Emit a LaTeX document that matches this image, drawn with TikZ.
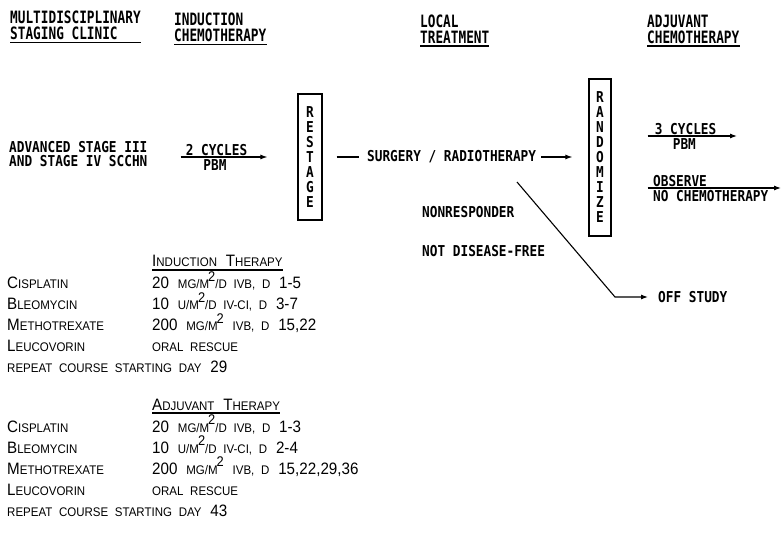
\documentclass[tikz,border=0pt]{standalone}
\usepackage{fontspec}
\newfontfamily\plotfont[FakeStretch=0.85]{DejaVu Sans Mono}
\newfontfamily\headfont[FakeStretch=0.75]{DejaVu Sans Mono}
\newfontfamily\tabfont[FakeStretch=0.92, WordSpace=2.1]{Liberation Sans}
\newcommand{\smc}[1]{{\fontsize{12.5}{12.5}\selectfont #1}}
\newcommand{\msq}{\smc{M}\kern-1pt\raisebox{7.5pt}{\fontsize{14}{14}\selectfont 2}}
\usepackage{tikz}
\usetikzlibrary{arrows.meta, positioning}

\begin{document}
\begin{tikzpicture}[x=1pt, y=-1pt,
  head/.style={font=\headfont\bfseries\fontsize{17}{16}\selectfont, align=left, anchor=north west, inner sep=0pt},
  txt/.style={font=\plotfont\bfseries\fontsize{15}{13}\selectfont, inner sep=0pt},
  vbox/.style={draw, line width=1.2pt, font=\plotfont\bfseries\fontsize{15}{15}\selectfont, align=center, inner sep=0pt, minimum width=24pt},
  tab/.style={font=\tabfont\fontsize{16.5}{16.5}\selectfont, anchor=base west, inner sep=0pt},
  ul/.style={line width=1.3pt},
  arr/.style={-{Latex[length=7pt, width=5pt]}, line width=1.1pt}]
\useasboundingbox (0,0) rectangle (782,537);
% column headings
\node[head] (h0) at (10, 11) {MULTIDISCIPLINARY\\ STAGING CLINIC};
\node[head] (h1) at (174, 13) {INDUCTION\\ CHEMOTHERAPY};
\node[head] (h2) at (420, 15) {LOCAL\\ TREATMENT};
\node[head] (h3) at (647, 15) {ADJUVANT\\ CHEMOTHERAPY};
\draw[ul] ([yshift=-2pt]h0.south west) -- ([yshift=-2pt]h0.south east);
\draw[ul] ([yshift=-2pt]h1.south west) -- ([yshift=-2pt]h1.south east);
\draw[ul] ([yshift=-2pt]h2.south west) -- ([yshift=-2pt]h2.south east);
\draw[ul] ([yshift=-2pt]h3.south west) -- ([yshift=-2pt]h3.south east);
% flow
\node[txt, align=left, anchor=north west, font=\plotfont\bfseries\fontsize{15}{14.5}\selectfont] (adv) at (9, 141) {ADVANCED STAGE III\\ AND STAGE IV SCCHN};
\node[vbox, minimum height=126pt] (rs) at (310, 157) {R\\E\\S\\T\\A\\G\\E};
\node[txt, anchor=west] (surg) at (367, 157) {SURGERY / RADIOTHERAPY};
\node[vbox, minimum height=157pt, minimum width=22pt] (rz) at (600, 157.5) {R\\A\\N\\D\\O\\M\\I\\Z\\E};
\node[txt, anchor=west] (nr) at (422, 212) {NONRESPONDER};
\node[txt, anchor=west] (ndf) at (422, 251) {NOT DISEASE-FREE};
\node[txt, anchor=west] (off) at (658, 297) {OFF STUDY};
\coordinate (dstart) at (517, 182);
\coordinate (bend) at (615, 297);
\coordinate (cyc) at (737, 136);
\coordinate (obs) at (781, 188);
\draw[arr, shorten <=33pt, shorten >=30pt] (rs.west -| adv.east) -- (rs.west)
  node[txt, pos=0.46, above=0.5pt] {2 CYCLES} node[txt, pos=0.45, below=2pt] {PBM};
\draw[line width=1.1pt, shorten <=14pt, shorten >=8pt] (rs.east) -- (surg.west);
\draw[arr, shorten <=5pt, shorten >=16pt] (surg.east) -- (surg.east -| rz.west);
\draw[arr, shorten <=36pt] (rz.east |- cyc) -- (cyc)
  node[txt, pos=0.59, above=0.5pt] {3 CYCLES} node[txt, pos=0.58, below=2pt] {PBM};
\draw[arr, shorten <=36pt] (rz.east |- obs) -- (obs)
  node[txt, pos=0, anchor=south west, xshift=41pt, yshift=0.5pt] {OBSERVE}
  node[txt, pos=0, anchor=north west, xshift=41pt, yshift=-2pt] {NO CHEMOTHERAPY};
\draw[arr, shorten >=10pt] (dstart) -- (bend) -- (off.west);
% regimens
\node[tab] (ih) at (152, 267) {I\smc{NDUCTION} T\smc{HERAPY}};
\draw[ul] ([yshift=-3pt]ih.base west) -- ([yshift=-3pt]ih.base east);
\node[tab] (i1) at (7, 289) {C\smc{ISPLATIN}};
\node[tab] (i1d) at (152, 289) {20 \smc{MG/}\msq\smc{/D IVB, D} 1-5};
\node[tab] (i2) at (7, 310) {B\smc{LEOMYCIN}};
\node[tab] (i2d) at (152, 310) {10 \smc{U/}\msq\smc{/D IV-CI, D} 3-7};
\node[tab] (i3) at (7, 331) {M\smc{ETHOTREXATE}};
\node[tab] (i3d) at (152, 331) {200 \smc{MG/}\msq\ \smc{IVB, D} 15,22};
\node[tab] (i4) at (7, 352) {L\smc{EUCOVORIN}};
\node[tab] (i4d) at (152, 352) {\smc{ORAL RESCUE}};
\node[tab] (i5) at (7, 373) {\smc{REPEAT COURSE STARTING DAY} 29};
\node[tab] (ah) at (152, 410) {A\smc{DJUVANT} T\smc{HERAPY}};
\draw[ul] ([yshift=-3pt]ah.base west) -- ([yshift=-3pt]ah.base east);
\node[tab] (a1) at (7, 432) {C\smc{ISPLATIN}};
\node[tab] (a1d) at (152, 432) {20 \smc{MG/}\msq\smc{/D IVB, D} 1-3};
\node[tab] (a2) at (7, 453) {B\smc{LEOMYCIN}};
\node[tab] (a2d) at (152, 453) {10 \smc{U/}\msq\smc{/D IV-CI, D} 2-4};
\node[tab] (a3) at (7, 474) {M\smc{ETHOTREXATE}};
\node[tab] (a3d) at (152, 474) {200 \smc{MG/}\msq\ \smc{IVB, D} 15,22,29,36};
\node[tab] (a4) at (7, 495) {L\smc{EUCOVORIN}};
\node[tab] (a4d) at (152, 495) {\smc{ORAL RESCUE}};
\node[tab] (a5) at (7, 516) {\smc{REPEAT COURSE STARTING DAY} 43};
\end{tikzpicture}
\end{document}
